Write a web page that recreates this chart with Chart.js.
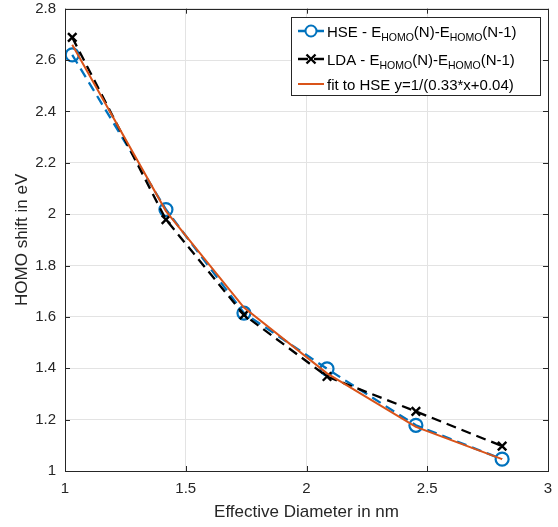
<!DOCTYPE html>
<html>
<head>
<meta charset="utf-8">
<script src="https://cdn.jsdelivr.net/npm/chart.js@4"></script>
<style>
html,body{margin:0;padding:0;background:#fff;}
#wrap{width:558px;height:527px;position:relative;}
</style>
</head>
<body>
<div id="wrap"><canvas id="c" width="558" height="527"></canvas></div>
<script>
const diameters = [1.03, 1.418, 1.741, 2.085, 2.453, 2.81];
const hseShift  = [2.62, 2.018, 1.615, 1.398, 1.178, 1.046];
const ldaShift  = [2.688, 1.979, 1.608, 1.368, 1.232, 1.097];
const fitShift  = [2.66, 2.012, 1.636, 1.38, 1.172, 1.046];
const xTicks = [1, 1.5, 2, 2.5, 3];
const yTicks = [1, 1.2, 1.4, 1.6, 1.8, 2, 2.2, 2.4, 2.6, 2.8];
const legendLabels = [
  ['HSE - E', 'HOMO', '(N)-E', 'HOMO', '(N-1)'],
  ['LDA - E', 'HOMO', '(N)-E', 'HOMO', '(N-1)'],
  ['fit to HSE y=1/(0.33*x+0.04)']
];

const FONT = '"Liberation Sans", Arial, sans-serif';
const AX = '#262626';
const pts = a => diameters.map((x, i) => ({x, y: a[i]}));

const boxPlugin = {
  id: 'box',
  afterDatasetsDraw(chart) {
    const {ctx, chartArea: a, scales} = chart;
    ctx.save();
    ctx.strokeStyle = AX;
    ctx.lineWidth = 1;
    const tl = 5;
    ctx.beginPath();
    xTicks.forEach(v => {
      const px = Math.round(scales.x.getPixelForValue(v)) + 0.5;
      ctx.moveTo(px, a.bottom); ctx.lineTo(px, a.bottom - tl);
      ctx.moveTo(px, a.top); ctx.lineTo(px, a.top + tl);
    });
    yTicks.forEach(v => {
      const py = Math.round(scales.y.getPixelForValue(v)) + 0.5;
      ctx.moveTo(a.left, py); ctx.lineTo(a.left + tl, py);
      ctx.moveTo(a.right, py); ctx.lineTo(a.right - tl, py);
    });
    ctx.stroke();
    ctx.strokeRect(Math.round(a.left) + 0.5, Math.round(a.top) + 0.5,
                   Math.round(a.right - a.left), Math.round(a.bottom - a.top));

    // legend
    const lx = 291.5, ly = 17.5, lw = 249, lh = 78;
    ctx.fillStyle = '#fff';
    ctx.fillRect(lx, ly, lw, lh);
    ctx.strokeStyle = AX;
    ctx.strokeRect(lx, ly, lw, lh);
    const rows = [31, 59, 84];
    const ds = chart.data.datasets;
    [0, 1, 2].forEach((di, r) => {
      const d = ds[di];
      const y = rows[r];
      ctx.save();
      ctx.strokeStyle = d.borderColor;
      ctx.lineWidth = d.borderWidth;
      ctx.setLineDash(d.borderDash || []);
      ctx.beginPath();
      ctx.moveTo(298, y); ctx.lineTo(324, y);
      ctx.stroke();
      ctx.setLineDash([]);
      if (d.pointStyle === 'circle') {
        ctx.fillStyle = '#fff';
        ctx.lineWidth = 2;
        ctx.beginPath(); ctx.arc(311, y, 5.5, 0, Math.PI * 2); ctx.fill(); ctx.stroke();
      } else if (d.pointStyle === 'crossRot') {
        ctx.lineWidth = 2.4;
        ctx.beginPath();
        ctx.moveTo(306.5, y - 4.5); ctx.lineTo(315.5, y + 4.5);
        ctx.moveTo(315.5, y - 4.5); ctx.lineTo(306.5, y + 4.5);
        ctx.stroke();
      }
      ctx.restore();
      ctx.fillStyle = '#000';
      ctx.textBaseline = 'alphabetic';
      let x = 327;
      const parts = legendLabels[r];
      parts.forEach((p, k) => {
        const sub = parts.length > 1 && (k % 2 === 1);
        ctx.font = (sub ? '10.5px ' : '15px ') + FONT;
        ctx.fillText(p, x, sub ? y + 10 : y + 5.5);
        x += ctx.measureText(p).width;
      });
    });
    ctx.restore();
  }
};

new Chart(document.getElementById('c'), {
  type: 'line',
  data: {
    datasets: [
      {
        label: 'HSE', data: pts(hseShift), borderColor: '#0072BD', backgroundColor: 'rgba(0,0,0,0)',
        borderWidth: 2.3, borderDash: [10, 6], pointStyle: 'circle', pointRadius: 6.5,
        pointBorderWidth: 2.2, pointBorderColor: '#0072BD', pointBackgroundColor: 'rgba(0,0,0,0)',
        tension: 0, order: 2
      },
      {
        label: 'LDA', data: pts(ldaShift), borderColor: '#000000', backgroundColor: 'rgba(0,0,0,0)',
        borderWidth: 2.3, borderDash: [10, 6], pointStyle: 'crossRot', pointRadius: 6,
        pointBorderWidth: 2.4, pointBorderColor: '#000000',
        tension: 0, order: 1
      },
      {
        label: 'fit', data: pts(fitShift), borderColor: '#D95319', backgroundColor: 'rgba(0,0,0,0)',
        borderWidth: 2, pointRadius: 0, tension: 0, order: 0
      }
    ]
  },
  options: {
    responsive: false,
    animation: false,
    devicePixelRatio: 1,
    layout: { padding: { left: 0, right: 10, top: 6, bottom: 0 } },
    plugins: { legend: { display: false }, tooltip: { enabled: false } },
    scales: {
      x: {
        type: 'linear', min: 1, max: 3,
        afterBuildTicks: s => { s.ticks = xTicks.map(v => ({value: v})); },
        afterFit: s => { s.height = 56; s.paddingLeft = 0; s.paddingRight = 0; },
        grid: { color: '#e3e3e3', drawTicks: false },
        border: { display: false },
        ticks: { color: AX, font: { family: FONT, size: 15 }, padding: 9, maxRotation: 0,
                 callback: v => String(v) },
        title: { display: true, text: 'Effective Diameter in nm', color: AX,
                 font: { family: FONT, size: 17 }, padding: { top: 4, bottom: 4 } }
      },
      y: {
        type: 'linear', min: 1, max: 2.8,
        afterBuildTicks: s => { s.ticks = yTicks.map(v => ({value: v})); },
        afterFit: s => { s.width = 65; s.paddingTop = 0; s.paddingBottom = 0; },
        grid: { color: '#e3e3e3', drawTicks: false },
        border: { display: false },
        ticks: { color: AX, font: { family: FONT, size: 15 }, padding: 9,
                 callback: v => String(Math.round(v * 10) / 10) },
        title: { display: true, text: 'HOMO shift in eV', color: AX,
                 font: { family: FONT, size: 17 }, padding: { top: 12, bottom: 12 } }
      }
    }
  },
  plugins: [boxPlugin]
});
</script>
</body>
</html>
